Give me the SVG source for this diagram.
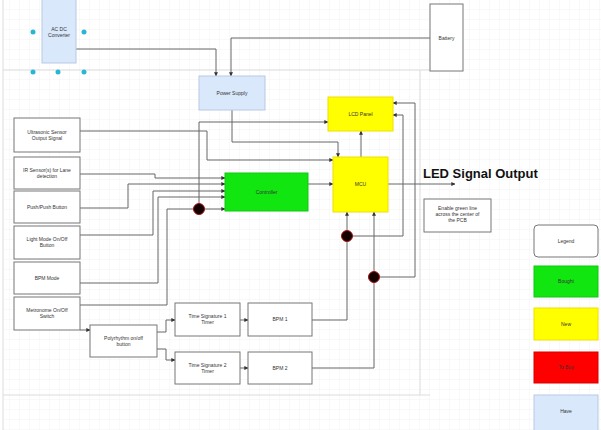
<svg xmlns="http://www.w3.org/2000/svg" width="601" height="430" viewBox="0 0 601 430">
<defs>
<pattern id="grid" width="10" height="10" patternUnits="userSpaceOnUse">
<path d="M10 0 V10 M0 10 H10" fill="none" stroke="#ececec" stroke-width="0.6"/>
</pattern>
<marker id="arr" viewBox="0 0 6 6" refX="5.5" refY="3" markerWidth="4" markerHeight="4" orient="auto" markerUnits="userSpaceOnUse">
<path d="M0 0 L6 3 L0 6 Z" fill="#333"/>
</marker>
<style>
.box{fill:#fff;stroke:#777;stroke-width:1}
.blue{fill:#dae8fc;stroke:#b7c9e2;stroke-width:1}
.yel{fill:#ffff00;stroke:#eee000;stroke-width:1}
.grn{fill:#11e611;stroke:#10c810;stroke-width:1}
.red{fill:#ff0000;stroke:#d40000;stroke-width:1}
.t{font-family:"Liberation Sans",Arial,sans-serif;font-size:5px;fill:#333;text-anchor:middle}
.c{fill:none;stroke:#666;stroke-width:1}
.ca{fill:none;stroke:#666;stroke-width:1;marker-end:url(#arr)}
.dot{fill:#150000;stroke:#a01010;stroke-width:1}
.h{fill:#29b6d2}
</style>
</defs>
<rect width="601" height="430" fill="#fff"/>
<rect x="3" y="0" width="598" height="430" fill="url(#grid)"/>
<path d="M3 0 V430 M3 70 H430 M3 395 H430 M420 70 V395" fill="none" stroke="#dcdcdc" stroke-width="1"/>

<g id="connectors">
<path class="ca" d="M76 49 H216 V76"/>
<path class="ca" d="M430 38 H231 V76"/>
<path class="ca" d="M232 110 V142 H338 V157"/>
<path class="ca" d="M80 131 H207 V160 H333"/>
<path class="ca" d="M199 209 V122 H328"/>
<path class="ca" d="M361 157 V131"/>
<path class="ca" d="M347 236 H403 V115 H393"/>
<path class="ca" d="M374 277 H415 V103 H393"/>
<path class="ca" d="M347 236 V212"/>
<path class="ca" d="M374 277 V212"/>
<path class="c" d="M312 320 H347 V236"/>
<path class="c" d="M312 368 H374 V277"/>
<path class="ca" d="M308 184 H333"/>
<path class="ca" d="M388 184 H455"/>
<path class="ca" d="M80 174 H155 V178 H225"/>
<path class="ca" d="M80 208 H128 V184 H225"/>
<path class="ca" d="M80 235 H153 V191 H225"/>
<path class="ca" d="M80 283 H158 V197 H225"/>
<path class="ca" d="M80 305 H167 V209 H225"/>
<path class="ca" d="M80 330 H90"/>
<path class="ca" d="M157 332 H166 V320 H175"/>
<path class="ca" d="M157 349 H166 V360 H175"/>
<path class="ca" d="M240 320 H248"/>
<path class="ca" d="M240 368 H248"/>
<circle class="dot" cx="199" cy="209" r="5.5"/>
<circle class="dot" cx="347" cy="236" r="5.5"/>
<circle class="dot" cx="374" cy="277" r="5.5"/>
</g>

<g id="acdc">
<rect class="blue" x="42" y="-1" width="34" height="64"/>
<text class="t" x="59" y="31">AC DC</text>
<text class="t" x="59" y="37">Converter</text>
<circle class="h" cx="33" cy="32" r="2.5"/>
<circle class="h" cx="84" cy="32" r="2.5"/>
<circle class="h" cx="33" cy="72" r="2.5"/>
<circle class="h" cx="58" cy="72" r="2.5"/>
<circle class="h" cx="84" cy="72" r="2.5"/>
</g>
<g id="battery">
<rect class="box" x="430" y="4" width="33" height="67"/>
<text class="t" x="446.5" y="39.5">Battery</text>
</g>
<g id="power">
<rect class="blue" x="199" y="76" width="66" height="34"/>
<text class="t" x="232" y="94.5">Power Supply</text>
</g>
<g id="lcd">
<rect class="yel" x="328" y="97" width="65" height="34"/>
<text class="t" x="360.5" y="115.5">LCD Panel</text>
</g>
<g id="mcu">
<rect class="yel" x="333" y="157" width="55" height="55"/>
<text class="t" x="360.5" y="186">MCU</text>
</g>
<g id="controller">
<rect class="grn" x="225" y="173" width="83" height="38"/>
<text class="t" x="266.5" y="193.5">Controller</text>
</g>
<g id="ultrasonic">
<rect class="box" x="14" y="118" width="66" height="34"/>
<text class="t" x="47" y="133.5">Ultrasonic Sensor</text>
<text class="t" x="47" y="139.5">Output Signal</text>
</g>
<g id="ir">
<rect class="box" x="14" y="157" width="66" height="32"/>
<text class="t" x="47" y="171.5">IR Sensor(s) for Lane</text>
<text class="t" x="47" y="177.5">detection</text>
</g>
<g id="push">
<rect class="box" x="14" y="191" width="66" height="32"/>
<text class="t" x="47" y="208.5">Push/Push Button</text>
</g>
<g id="light">
<rect class="box" x="14" y="226" width="66" height="33"/>
<text class="t" x="47" y="241">Light Mode On/Off</text>
<text class="t" x="47" y="247">Button</text>
</g>
<g id="bpmmode">
<rect class="box" x="14" y="262" width="66" height="32"/>
<text class="t" x="47" y="279.5">BPM Mode</text>
</g>
<g id="metronome">
<rect class="box" x="14" y="297" width="66" height="33"/>
<text class="t" x="47" y="312">Metronome On/Off</text>
<text class="t" x="47" y="318">Switch</text>
</g>
<g id="poly">
<rect class="box" x="90" y="325" width="67" height="32"/>
<text class="t" x="123.5" y="340">Polyrhythm on/off</text>
<text class="t" x="123.5" y="346">button</text>
</g>
<g id="ts1">
<rect class="box" x="175" y="303" width="65" height="33"/>
<text class="t" x="207.5" y="318">Time Signature 1</text>
<text class="t" x="207.5" y="324">Timer</text>
</g>
<g id="ts2">
<rect class="box" x="175" y="352" width="65" height="32"/>
<text class="t" x="207.5" y="366.5">Time Signature 2</text>
<text class="t" x="207.5" y="372.5">Timer</text>
</g>
<g id="bpm1">
<rect class="box" x="248" y="303" width="64" height="33"/>
<text class="t" x="280" y="321">BPM 1</text>
</g>
<g id="bpm2">
<rect class="box" x="248" y="352" width="64" height="32"/>
<text class="t" x="280" y="370">BPM 2</text>
</g>
<g id="led">
<text x="423" y="178" font-family="Liberation Sans, Arial, sans-serif" font-size="13" font-weight="bold" fill="#111">LED Signal Output</text>
</g>
<g id="note">
<rect class="box" x="424" y="199" width="67" height="33"/>
<text class="t" x="457.5" y="210">Enable green line</text>
<text class="t" x="457.5" y="216">across the center of</text>
<text class="t" x="457.5" y="222">the PCB</text>
</g>
<g id="legend">
<rect class="box" x="534" y="225" width="64" height="32" rx="4"/>
<text class="t" x="566" y="242.5">Legend</text>
</g>
<g id="legend-bought">
<rect class="grn" x="534" y="266" width="64" height="31"/>
<text class="t" x="566" y="283">Bought</text>
</g>
<g id="legend-new">
<rect class="yel" x="534" y="308" width="64" height="32"/>
<text class="t" x="566" y="325.5">New</text>
</g>
<g id="legend-tobuy">
<rect class="red" x="534" y="352" width="64" height="31"/>
<text class="t" x="566" y="369">To Buy</text>
</g>
<g id="legend-have">
<rect class="blue" x="534" y="395" width="64" height="37"/>
<text class="t" x="566" y="413">Have</text>
</g>
</svg>
